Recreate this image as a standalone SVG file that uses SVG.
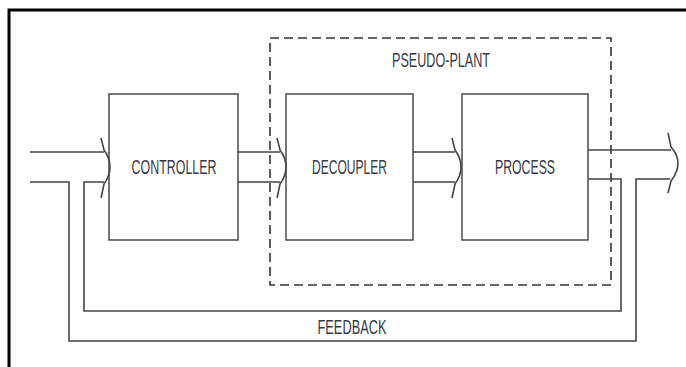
<svg xmlns="http://www.w3.org/2000/svg" width="686" height="367" viewBox="0 0 686 367">
<style>
.box{fill:#fff;stroke:#555;stroke-width:1.6}
.ln{fill:none;stroke:#444;stroke-width:1.6;stroke-linejoin:miter}
.dash{fill:none;stroke:#333;stroke-width:1.6;stroke-dasharray:9 5}
.t{font-family:"Liberation Sans Narrow","Liberation Sans",Arial,sans-serif;font-size:21px;fill:#3a3a48;text-anchor:middle}
</style>
<rect width="686" height="367" fill="#fff"/>
<path d="M9,380 V10 H700" fill="none" stroke="#000" stroke-width="3"/>
<g id="pseudo-plant">
<rect class="dash" x="270" y="38" width="341" height="247"/>
<text class="t" x="441" y="67" textLength="98" lengthAdjust="spacingAndGlyphs">PSEUDO-PLANT</text>
</g>
<g id="controller">
<rect class="box" x="109" y="94" width="129" height="146"/>
<text class="t" x="174" y="174" textLength="85" lengthAdjust="spacingAndGlyphs">CONTROLLER</text>
</g>
<g id="decoupler">
<rect class="box" x="286" y="94" width="127" height="146"/>
<text class="t" x="349.5" y="174" textLength="75" lengthAdjust="spacingAndGlyphs">DECOUPLER</text>
</g>
<g id="process">
<rect class="box" x="462" y="94" width="126" height="146"/>
<text class="t" x="525" y="174" textLength="60" lengthAdjust="spacingAndGlyphs">PROCESS</text>
</g>
<g id="connectors">
<path class="ln" d="M30,152 H104"/>
<path class="ln" d="M30,182 H69 V341 H636 V179 H670"/>
<path class="ln" d="M588,179 H621 V311 H84 V182 H104"/>
<path class="ln" d="M101,138 L104,150 Q110,158 110,167 Q110,176 104,184 L101,198"/>
<path class="ln" d="M238,152 H280 M238,182 H280"/>
<path class="ln" d="M277,138 L280,150 Q286,158 286,167 Q286,176 280,184 L277,198"/>
<path class="ln" d="M413,152 H455 M413,182 H455"/>
<path class="ln" d="M452,138 L455,150 Q461,158 461,167 Q461,176 455,184 L452,198"/>
<path class="ln" d="M588,150 H671"/>
<path class="ln" d="M668,133 L671,147 Q678,155 678,163 Q678,172 671,181 L668,193"/>
<text class="t" x="352" y="334" textLength="69" lengthAdjust="spacingAndGlyphs">FEEDBACK</text>
</g>
</svg>
